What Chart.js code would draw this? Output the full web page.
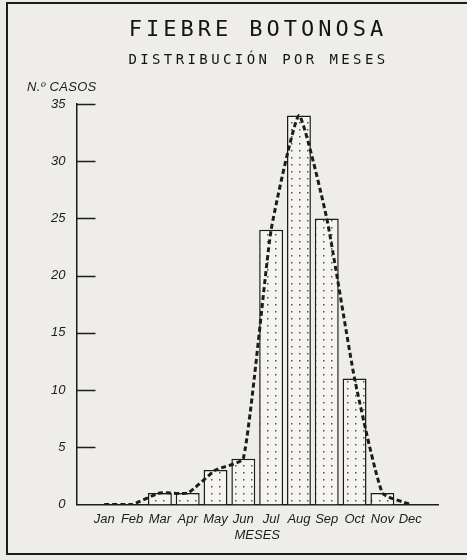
<!DOCTYPE html>
<html>
<head>
<meta charset="utf-8">
<script src="https://cdn.jsdelivr.net/npm/chart.js@4/dist/chart.umd.min.js"></script>
<style>
  html, body { margin: 0; padding: 0; background: #ebeae7; }
  #wrap { position: relative; width: 467px; height: 560px; overflow: hidden; }
  #frame { position: absolute; left: 6px; top: 2px; width: 470px; height: 549px;
           border: 2px solid #1c1c1c; border-right: none; background: #eeedea; }
  canvas { position: absolute; left: 0; top: 0; }
  .ttl { position: absolute; left: 0; width: 467px; text-align: center; color: #141414;
         font-family: "DejaVu Sans Mono", monospace; white-space: nowrap; box-sizing: border-box; }
  #t1 { top: 16px; font-size: 22px; letter-spacing: 4px; padding-left: 49px; }
  #t2 { top: 51px; font-size: 14px; letter-spacing: 3.4px; padding-left: 50px; }
  #ylab { position: absolute; left: 27px; top: 79px; font: italic 13px "Liberation Sans", Arial, sans-serif;
          color: #1c1c1c; letter-spacing: 0.3px; }
</style>
</head>
<body>
<div id="wrap">
  <div id="frame"></div>
  <canvas id="chart" width="467" height="560"></canvas>
  <div class="ttl" id="t1">FIEBRE BOTONOSA</div>
  <div class="ttl" id="t2">DISTRIBUCIÓN POR MESES</div>
  <div id="ylab">N.º CASOS</div>
</div>
<script>
var meses = ['Jan', 'Feb', 'Mar', 'Apr', 'May', 'Jun', 'Jul', 'Aug', 'Sep', 'Oct', 'Nov', 'Dec'];
var casos = [0, 0, 1, 1, 3, 4, 24, 34, 25, 11, 1, 0];
var tendencia = [0, 0, 1, 1, 3, 4, 24, 34, 25, 11, 1, 0];
var yTicks = [0, 5, 10, 15, 20, 25, 30, 35];

var ink = '#1c1c1c';

// dotted fill like the printed screen
function dotPattern() {
  var c = document.createElement('canvas');
  c.width = 8; c.height = 7;
  var g = c.getContext('2d');
  g.fillStyle = '#f4f3f0';
  g.fillRect(0, 0, 8, 7);
  g.fillStyle = '#555';
  g.fillRect(3, 3, 1.5, 1.5);
  return g.createPattern(c, 'repeat');
}

// y ticks are drawn inward, on the right of the axis
var innerTicks = {
  id: 'innerTicks',
  afterDraw: function (chart) {
    var ctx = chart.ctx, y = chart.scales.y;
    ctx.save();
    ctx.strokeStyle = ink;
    ctx.lineWidth = 1.5;
    y.ticks.forEach(function (t) {
      if (t.value === 0) return;
      var py = Math.round(y.getPixelForValue(t.value)) + 0.5;
      ctx.beginPath();
      ctx.moveTo(y.right, py);
      ctx.lineTo(y.right + 19, py);
      ctx.stroke();
    });
    ctx.restore();
  }
};

var ctx = document.getElementById('chart').getContext('2d');
var chart = new Chart(ctx, {
  type: 'bar',
  data: {
    datasets: [
      {
        type: 'line',
        label: 'Tendencia',
        data: tendencia.map(function (v, i) { return { x: i + 1, y: v }; }),
        borderColor: ink,
        borderWidth: 3,
        borderDash: [5, 3],
        pointRadius: 0,
        tension: 0.15,
        fill: false,
        order: 0
      },
      {
        type: 'bar',
        label: 'Casos',
        data: casos.map(function (v, i) { return { x: i + 1, y: v }; }),
        backgroundColor: dotPattern(),
        borderColor: ink,
        borderWidth: 1.5,
        borderSkipped: 'bottom',
        categoryPercentage: 1,
        barPercentage: 0.86,
        order: 1
      }
    ]
  },
  options: {
    responsive: false,
    animation: false,
    events: [],
    layout: { padding: { top: 104, left: 40, right: 29, bottom: 14 } },
    plugins: {
      legend: { display: false },
      tooltip: { enabled: false },
      title: { display: false }
    },
    scales: {
      x: {
        type: 'linear',
        min: 0,
        max: 13,
        offset: false,
        grid: { display: false, drawTicks: false },
        border: { display: true, color: ink, width: 1.5 },
        ticks: {
          stepSize: 1,
          autoSkip: false,
          maxRotation: 0,
          padding: 8,
          color: ink,
          font: { family: 'Liberation Sans', size: 13, style: 'italic', lineHeight: 1 },
          callback: function (v) { return meses[v - 1] || ''; }
        },
        title: {
          display: true,
          text: 'MESES',
          color: ink,
          padding: { top: -6, bottom: 3 },
          font: { family: 'Liberation Sans', size: 13, style: 'italic' }
        }
      },
      y: {
        min: 0,
        max: 35,
        grid: { display: false, drawTicks: false },
        border: { display: true, color: ink, width: 1.5 },
        afterBuildTicks: function (axis) {
          axis.ticks = yTicks.map(function (v) { return { value: v }; });
        },
        ticks: {
          padding: 11,
          color: ink,
          font: { family: 'Liberation Sans', size: 13, style: 'italic' }
        }
      }
    }
  },
  plugins: [innerTicks]
});
</script>
</body>
</html>
